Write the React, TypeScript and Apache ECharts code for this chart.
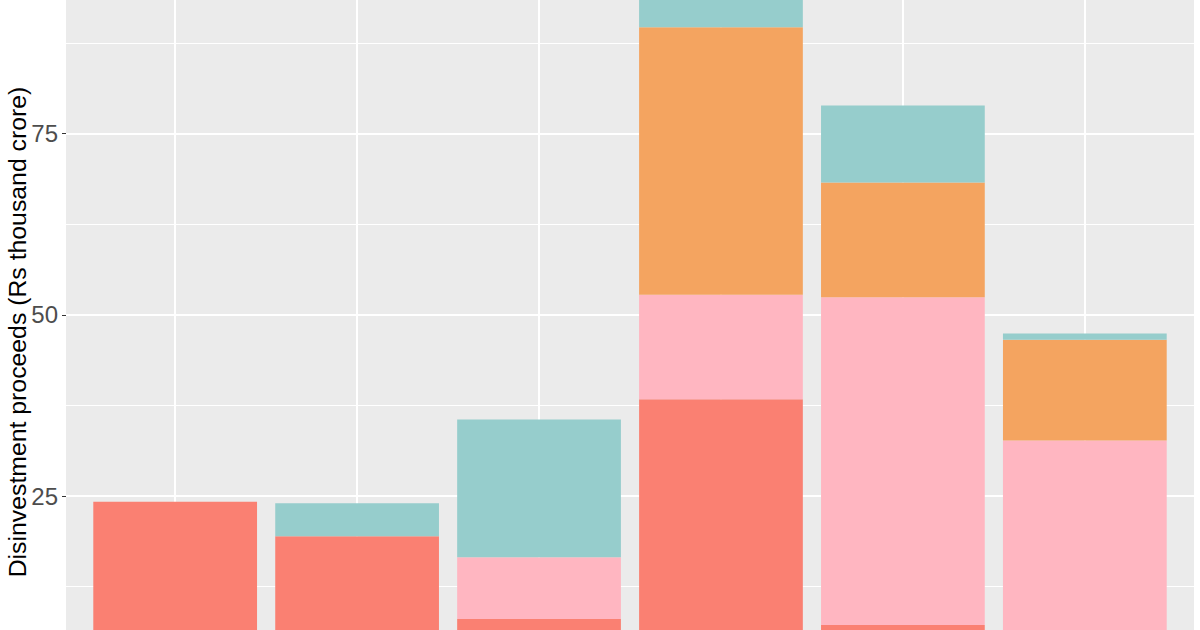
import React, { useEffect, useRef } from "react";
import * as echarts from "echarts";

const categories = ["2014-15", "2015-16", "2016-17", "2017-18", "2018-19", "2019-20"];
const salmonValues = [24.2, 19.45, 8.05, 38.35, 7.2, 0];
const pinkValues = [0, 0, 8.5, 14.4, 45.2, 32.65];
const orangeValues = [0, 0, 0, 36.9, 15.85, 13.9];
const tealValues = [0, 4.55, 19.0, 10.3, 10.6, 0.85];
const seriesNames = ["Minority stake sale", "Strategic sale", "Buyback", "Other"];
const seriesColors = ["#FA8072", "#FFB6C1", "#F4A460", "#96CDCC"];
const yTicks = [25, 50, 75];

export default function App() {
  const ref = useRef<HTMLDivElement>(null);
  useEffect(() => {
    if (!ref.current) return;
    const chart = echarts.init(ref.current, undefined, { renderer: "svg" });
    const font = "Liberation Sans, Arial, sans-serif";
    const values = [salmonValues, pinkValues, orangeValues, tealValues];
    const bars = values.map((data, i) => ({
      name: seriesNames[i],
      type: "bar",
      stack: "total",
      xAxisIndex: 1,
      yAxisIndex: 1,
      barWidth: "90%",
      data,
      itemStyle: { color: seriesColors[i] },
      z: 3,
      ...(i === 0
        ? {
            markLine: {
              silent: true,
              symbol: "none",
              z: 1,
              label: { show: false },
              lineStyle: { color: "#FFFFFF", width: 2, type: "solid" },
              data: categories.map((c) => ({ xAxis: c })),
            },
          }
        : {}),
    }));
    chart.setOption({
      animation: false,
      grid: [
        { left: 66, right: 6, top: 52.25, bottom: 122.75, show: true, backgroundColor: "#EBEBEB", borderWidth: 0 },
        { left: 84.2, right: 24.2, top: 52.25, bottom: 122.75 },
      ],
      xAxis: [
        { type: "value", gridIndex: 0, min: 0, max: 1, show: false },
        {
          type: "category",
          gridIndex: 1,
          data: categories,
          axisLine: { show: false },
          axisTick: { show: false },
          axisLabel: { show: false },
          splitLine: { show: false },
        },
      ],
      yAxis: [
        {
          type: "value",
          gridIndex: 0,
          min: 0,
          max: 100,
          interval: 25,
          axisLine: { show: false },
          axisTick: { show: true, length: 4, lineStyle: { color: "#333333", width: 1 } },
          axisLabel: {
            margin: 8,
            fontSize: 24,
            color: "#4D4D4D",
            fontFamily: font,
            formatter: (v: number) => (yTicks.includes(v) ? String(v) : ""),
          },
          splitLine: { show: true, lineStyle: { color: "#FFFFFF", width: 2 } },
          minorTick: { show: false, splitNumber: 2 },
          minorSplitLine: { show: true, lineStyle: { color: "#FFFFFF", width: 1 } },
        },
        { type: "value", gridIndex: 1, min: 0, max: 100, show: false },
      ],
      graphic: [
        {
          type: "text",
          x: 17.5,
          y: 432,
          rotation: Math.PI / 2,
          style: {
            text: "Disinvestment proceeds (Rs thousand crore)",
            fontSize: 24.8,
            fill: "#000000",
            fontFamily: font,
            textAlign: "center",
            textVerticalAlign: "middle",
          },
        },
      ],
      series: bars,
    });
    return () => chart.dispose();
  }, []);
  return (
    <div style={{ position: "fixed", left: 0, top: 0, width: 1200, height: 630, overflow: "hidden", background: "#FFFFFF" }}>
      <div ref={ref} style={{ position: "absolute", left: 0, top: -100, width: 1200, height: 900 }} />
    </div>
  );
}
